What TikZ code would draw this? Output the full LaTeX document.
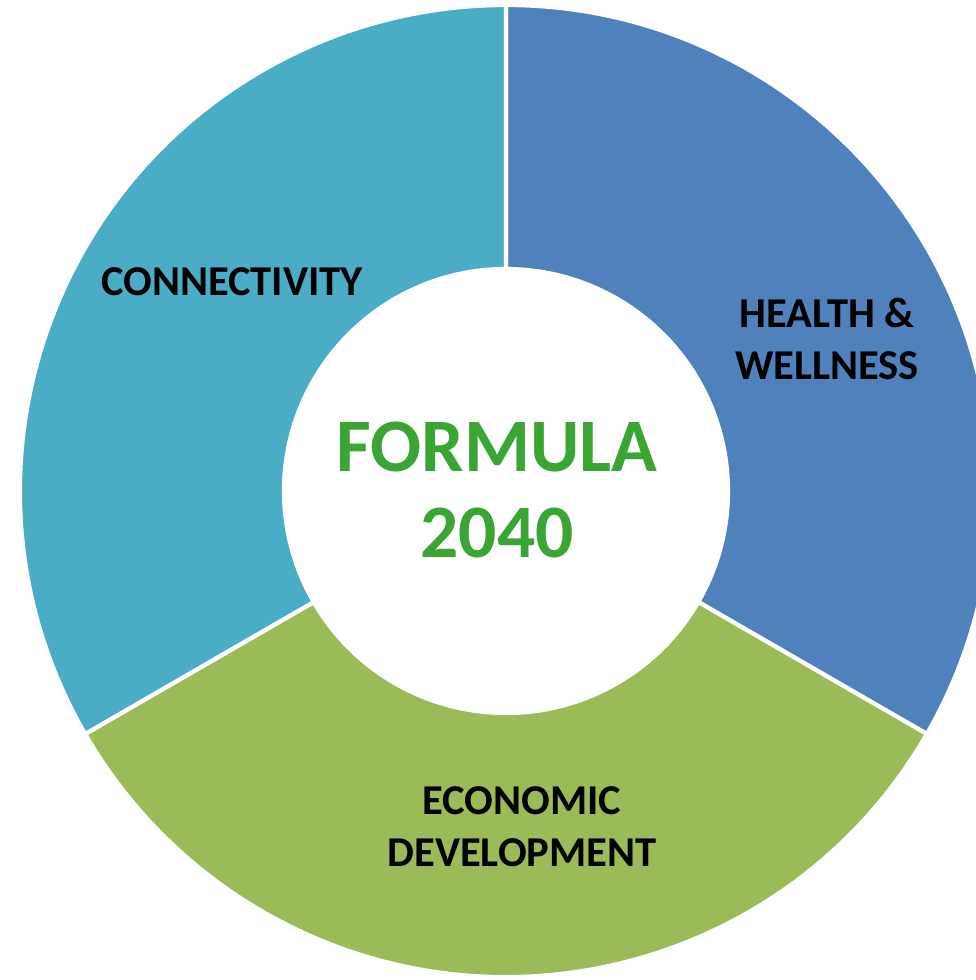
\documentclass[tikz,border=0pt]{standalone}
\usepackage{fontspec}
\setmainfont{Carlito}
\usetikzlibrary{calc}
\definecolor{healthblue}{HTML}{4F81BD}
\definecolor{econgreen}{HTML}{9BBB59}
\definecolor{connteal}{HTML}{4BACC6}
\definecolor{formulagreen}{HTML}{3AA532}

\begin{document}
\begin{tikzpicture}[
    sector/.style={fill=#1, draw=white, line width=1.2pt, line join=miter},
    ringlabel/.style={font=\bfseries\fontsize{12.1}{14.8}\selectfont, align=center, text=black},
    centerlabel/.style={font=\bfseries\fontsize{21.5}{24.5}\selectfont, align=center, text=formulagreen}
]
    \useasboundingbox (0,0) rectangle (9.76,9.80);
    \clip (0,0) rectangle (9.76,9.80);
    \coordinate (c) at (5.06,4.89);

    % Health & Wellness sector (right)
    \filldraw[sector=healthblue] ($(c)+(90:4.86)$) arc (90:-30:4.86) -- ($(c)+(-30:2.22)$) arc (-30:90:2.22) -- cycle;

    % Economic Development sector (bottom)
    \filldraw[sector=econgreen] ($(c)+(-30:4.86)$) arc (-30:-150:4.86) -- ($(c)+(-150:2.22)$) arc (-150:-30:2.22) -- cycle;

    % Connectivity sector (left)
    \filldraw[sector=connteal] ($(c)+(210:4.86)$) arc (210:90:4.86) -- ($(c)+(90:2.22)$) arc (90:210:2.22) -- cycle;

    % Labels
    \node[ringlabel] (health) at (8.27,6.41) {HEALTH \&\\WELLNESS};
    \node[ringlabel] (econ) at (5.22,1.53) {ECONOMIC\\DEVELOPMENT};
    \node[ringlabel] (conn) at (2.32,6.98) {CONNECTIVITY};

    % Center title
    \node[centerlabel] (title) at (4.97,4.90) {FORMULA\\2040};

\end{tikzpicture}
\end{document}
